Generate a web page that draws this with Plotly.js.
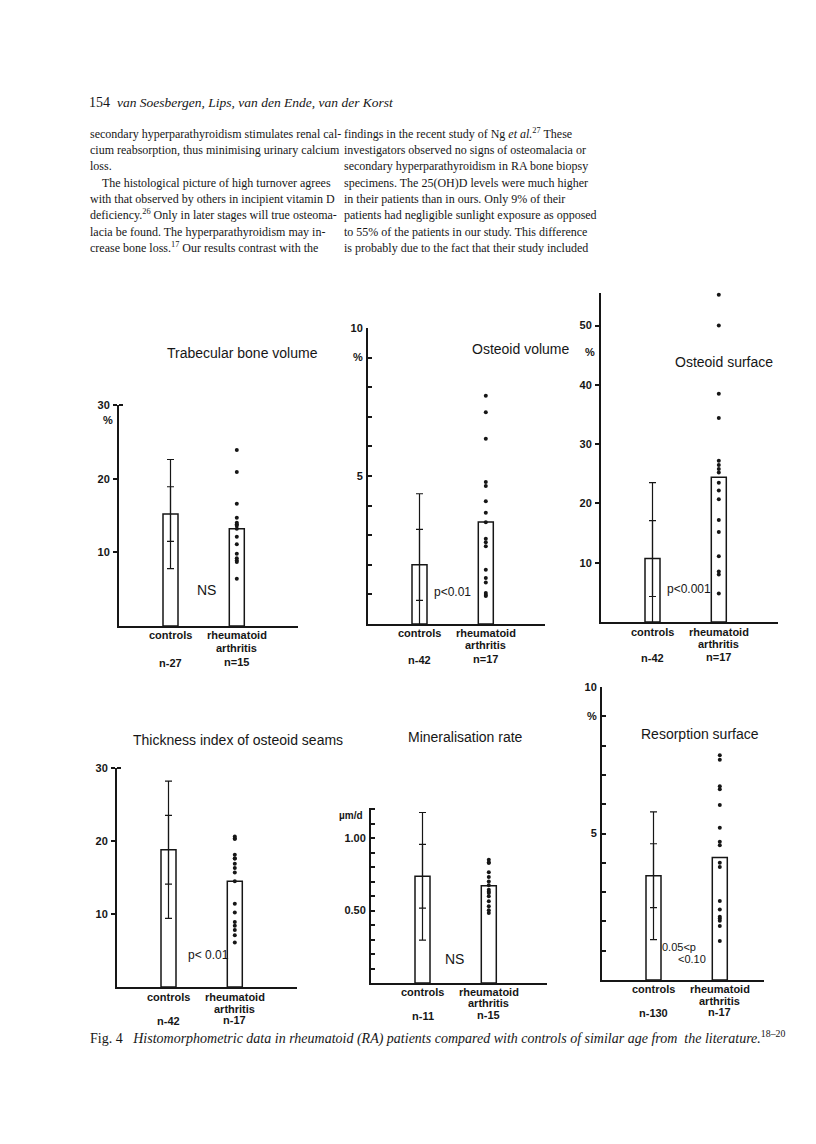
<!DOCTYPE html>
<html>
<head>
<meta charset="utf-8">
<script src="https://cdn.plot.ly/plotly-3.0.1.min.js"></script>
<style>
  html, body { margin: 0; padding: 0; background: #fff; }
  #page { width: 816px; height: 1144px; }
</style>
</head>
<body>
<div id="page"></div>
<script>
// ---- data ----
const groupTicks = [1, 2];
const groupNames = ['controls', 'rheumatoid', 'arthritis'];

// Trabecular bone volume (%)
const tbvMeans = [15.2, 13.2];
const tbvSD = 3.7;
const tbvRA = [23.9, 20.9, 16.6, 14.7, 14.0, 13.8, 13.6, 13.2, 12.1, 11.1, 9.8, 9.2, 8.9, 8.7, 6.4];
const tbvN = ['n-27', 'n=15'];

// Osteoid volume (%)
const ovMeans = [2.0, 3.45];
const ovSD = 1.2;
const ovRA = [7.71, 7.15, 6.26, 4.80, 4.66, 4.15, 3.76, 3.44, 2.88, 2.76, 2.63, 1.83, 1.55, 1.40, 1.05, 0.98, 0.95];
const ovN = ['n-42', 'n=17'];

// Osteoid surface (%)
const osMeans = [10.7, 24.4];
const osSD = 6.4;
const osRA = [55.2, 50.0, 38.5, 34.4, 27.2, 26.5, 25.8, 25.2, 23.5, 22.2, 20.7, 17.2, 15.2, 11.1, 8.5, 8.0, 4.8];
const osN = ['n-42', 'n=17'];

// Thickness index of osteoid seams
const thMeans = [18.8, 14.5];
const thSD = 4.7;
const thRA = [20.6, 20.3, 20.3, 18.1, 17.6, 17.6, 16.9, 16.3, 15.7, 14.5, 11.4, 10.2, 8.9, 8.4, 7.8, 7.1, 6.1];
const thN = ['n-42', 'n-17'];

// Mineralisation rate (um/d)
const mrMeans = [0.736, 0.671];
const mrSD = 0.22;
const mrRA = [0.85, 0.83, 0.83, 0.763, 0.731, 0.70, 0.674, 0.644, 0.63, 0.621, 0.598, 0.563, 0.529, 0.501, 0.483];
const mrN = ['n-11', 'n-15'];

// Resorption surface (%)
const rsMeans = [3.56, 4.18];
const rsSD = 1.09;
const rsRA = [7.67, 7.52, 6.61, 6.51, 5.97, 5.20, 4.72, 4.60, 4.00, 3.86, 2.70, 2.41, 2.16, 2.10, 2.02, 1.84, 1.33];
const rsN = ['n-130', 'n-17'];

const tenMinor = [1, 2, 3, 4, 5, 6, 7, 8, 9, 10];
const tenTicks = [5, 9, 10];
const tenText = ['5', '%', '10'];
const mrMinor = [0.1, 0.2, 0.3, 0.4, 0.5, 0.6, 0.7, 0.8, 0.9, 1.0, 1.1, 1.2];
const mrTicks = [0.5, 1.0];
const mrText = ['0.50', '1.00'];

// ---- page geometry (pixels) ----
const W = 816, H = 1144;
const ink = '#161616';
const sans = 'Liberation Sans, Arial, sans-serif';
const serif = 'Liberation Serif, Times New Roman, serif';

const panels = [
  {means: tbvMeans, sd: tbvSD, ra: tbvRA, n: tbvN, L: 119, R: 298, base: 626, top: 405, yMax: 30,
   tv: [10, 20, 30], tt: ['10', '20', '30'], tk: 'outside', minor: [30],
   rows: [635, 648, 662],
   title: 'Trabecular bone volume', tx: 242, ty: 353,
   notes: [['NS', 206, 590, 14], ['%', 108, 420, 11]]},
  {means: ovMeans, sd: ovSD, ra: ovRA, n: ovN, L: 368, R: 545, base: 624, top: 328, yMax: 10,
   tv: tenTicks, tt: tenText, tk: 'inside', minor: tenMinor,
   rows: [633, 645, 659],
   title: 'Osteoid volume', tx: 520, ty: 349,
   notes: [['p<0.01', 452, 592, 12]]},
  {means: osMeans, sd: osSD, ra: osRA, n: osN, L: 601, R: 778, base: 622, top: 293, yMax: 55.5,
   tv: [10, 20, 30, 40, 50], tt: ['10', '20', '30', '40', '50'], tk: 'outside', minor: null,
   rows: [632, 644, 657],
   title: 'Osteoid surface', tx: 724, ty: 362,
   notes: [['p<0.001', 689, 589, 12], ['%', 590, 352, 11]]},
  {means: thMeans, sd: thSD, ra: thRA, n: thN, L: 117, R: 297, base: 987, top: 768, yMax: 30,
   tv: [10, 20, 30], tt: ['10', '20', '30'], tk: 'outside', minor: [30],
   rows: [997, 1009, 1020],
   title: 'Thickness index of osteoid seams', tx: 238, ty: 740,
   notes: [['p< 0.01', 208, 955, 12]]},
  {means: mrMeans, sd: mrSD, ra: mrRA, n: mrN, L: 371, R: 547, base: 983, top: 808, yMax: 1.207,
   tv: mrTicks, tt: mrText, tk: 'inside', minor: mrMinor,
   rows: [992, 1003, 1015],
   title: 'Mineralisation rate', tx: 465, ty: 737,
   notes: [['NS', 454, 959, 14], ['µm/d', 351, 815, 10]]},
  {means: rsMeans, sd: rsSD, ra: rsRA, n: rsN, L: 602, R: 764, base: 980, top: 687, yMax: 10,
   tv: tenTicks, tt: tenText, tk: 'inside', minor: tenMinor,
   rows: [989, 1001, 1012],
   title: 'Resorption surface', tx: 700, ty: 734,
   notes: [['0.05<p', 679, 947, 11], ['<0.10', 692, 959, 11]]}
];

const pxPerGroup = 66.3;   // distance between the two bars
const firstOffset = 51.5;  // y axis to first bar
const barPx = 15;

const data = [];
const annotations = [];
const layout = {
  width: W, height: H,
  margin: {l: 0, r: 0, t: 0, b: 0},
  paper_bgcolor: '#fff', plot_bgcolor: 'rgba(0,0,0,0)',
  showlegend: false,
  annotations: annotations
};

function note(text, x, y, size, opts) {
  annotations.push(Object.assign({
    text: text, xref: 'paper', yref: 'paper', x: x / W, y: 1 - y / H,
    xanchor: 'center', yanchor: 'middle', showarrow: false,
    font: {family: sans, size: size, color: ink}
  }, opts || {}));
}
const boldSans = size => ({family: sans, size: size, color: ink, weight: 700});

panels.forEach((p, i) => {
  const s = i === 0 ? '' : String(i + 1);
  const xa = 'x' + s, ya = 'y' + s;
  const x0 = 1 - firstOffset / pxPerGroup;
  const x1 = 1 + (p.R - p.L - firstOffset) / pxPerGroup;

  layout['xaxis' + s] = {
    domain: [p.L / W, p.R / W], range: [x0, x1], anchor: ya,
    showline: true, linewidth: 2, linecolor: ink, showgrid: false, zeroline: false,
    ticks: '', showticklabels: false
  };
  const yax = {
    domain: [1 - p.base / H, 1 - p.top / H], range: [0, p.yMax], anchor: xa,
    showline: true, linewidth: 2, linecolor: ink, showgrid: false, zeroline: false,
    tickmode: 'array', ticks: p.tk, ticklen: 4, tickwidth: 2, tickcolor: ink,
    tickvals: p.tv, ticktext: p.tt, ticklabelstandoff: 1,
    tickfont: boldSans(11)
  };
  if (p.minor) {
    yax.minor = {tickmode: 'array', tickvals: p.minor, ticks: 'inside', ticklen: 4,
                 tickwidth: 2, tickcolor: ink, showgrid: false};
  }
  layout['yaxis' + s] = yax;

  // mean bars
  data.push({
    type: 'bar', x: groupTicks, y: p.means, xaxis: xa, yaxis: ya,
    width: barPx / pxPerGroup,
    marker: {color: '#fff', line: {color: ink, width: 1.5}}
  });
  // controls: mean +/- 2 SD with caps, +/- 1 SD with ticks
  [2, 1].forEach(k => {
    data.push({
      type: 'scatter', mode: 'markers', x: [groupTicks[0]], y: [p.means[0]],
      xaxis: xa, yaxis: ya, marker: {size: 1, opacity: 0},
      error_y: {type: 'data', array: [k * p.sd], visible: true, color: ink, thickness: 1.2, width: 3.5}
    });
  });
  // individual RA patients
  data.push({
    type: 'scatter', mode: 'markers', x: p.ra.map(() => groupTicks[1]), y: p.ra,
    xaxis: xa, yaxis: ya, cliponaxis: false, marker: {size: 4, color: ink}
  });

  // group labels under the axis
  const lab = (t, g, y) => annotations.push({
    text: t, xref: xa, yref: 'paper', x: groupTicks[g], y: 1 - y / H,
    xanchor: 'center', yanchor: 'middle', showarrow: false, font: boldSans(11)
  });
  lab(groupNames[0], 0, p.rows[0]);
  lab(p.n[0], 0, p.rows[2] + 1);
  lab(groupNames[1], 1, p.rows[0]);
  lab(groupNames[2], 1, p.rows[1]);
  lab(p.n[1], 1, p.rows[2]);

  note(p.title, p.tx, p.ty, 14);
  p.notes.forEach(n => note(n[0], n[1], n[2], n[3],
    n[0] === 'µm/d' || n[0] === '%' ? {font: boldSans(n[3])} : null));
});

// ---- page text ----
const headerNames = 'van Soesbergen, Lips, van den Ende, van der Korst';
const leftLines = [
  'secondary hyperparathyroidism stimulates renal cal-',
  'cium reabsorption, thus minimising urinary calcium',
  'loss.',
  'The histological picture of high turnover agrees',
  'with that observed by others in incipient vitamin D',
  'deficiency.<sup>26</sup> Only in later stages will true osteoma-',
  'lacia be found. The hyperparathyroidism may in-',
  'crease bone loss.<sup>17</sup> Our results contrast with the'
];
const rightLines = [
  'findings in the recent study of Ng <i>et al.</i><sup>27</sup> These',
  'investigators observed no signs of osteomalacia or',
  'secondary hyperparathyroidism in RA bone biopsy',
  'specimens. The 25(OH)D levels were much higher',
  'in their patients than in ours. Only 9% of their',
  'patients had negligible sunlight exposure as opposed',
  'to 55% of the patients in our study. This difference',
  'is probably due to the fact that their study included'
];
const lineY = [134, 150, 166, 183, 199, 215, 232, 248];
const caption = 'Fig. 4   <i>Histomorphometric data in rheumatoid (RA) patients compared with controls of similar age from  the literature.</i><sup>18–20</sup>';

const serifFont = size => ({family: serif, size: size, color: ink});
note('154', 87, 102, 14, {xanchor: 'left', font: serifFont(14)});
note('<i>' + headerNames + '</i>', 115, 102, 13.5, {xanchor: 'left', font: serifFont(13.5)});
leftLines.forEach((t, i) => note(t, i === 3 ? 100 : 88, lineY[i], 12, {xanchor: 'left', font: serifFont(12)}));
rightLines.forEach((t, i) => note(t, 342, lineY[i], 12, {xanchor: 'left', font: serifFont(12)}));
note(caption, 88, 1037, 14, {xanchor: 'left', font: serifFont(14)});

Plotly.newPlot('page', data, layout, {staticPlot: true});
</script>
</body>
</html>
